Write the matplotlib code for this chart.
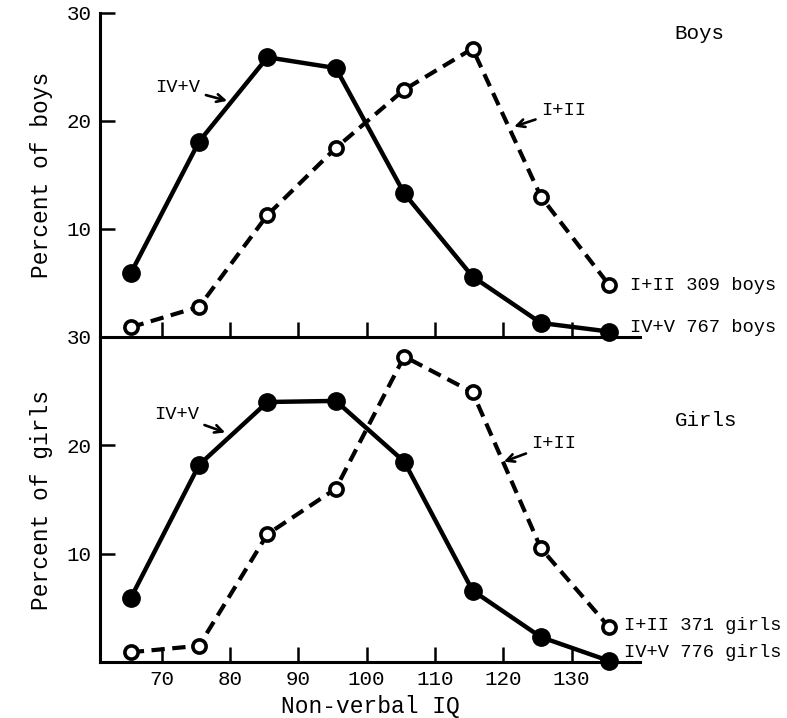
import matplotlib
matplotlib.use("Agg")
import matplotlib.pyplot as plt

iq = [65.5, 75.5, 85.5, 95.5, 105.5, 115.5, 125.5, 135.5]
boys_low = [5.9, 18.1, 25.9, 24.9, 13.3, 5.6, 1.3, 0.5]      # IV+V 767 boys
boys_high = [0.9, 2.8, 11.3, 17.5, 22.9, 26.7, 13.0, 4.8]    # I+II 309 boys
girls_low = [5.9, 18.2, 24.0, 24.1, 18.5, 6.6, 2.3, 0.1]     # IV+V 776 girls
girls_high = [0.9, 1.5, 11.8, 16.0, 28.2, 24.9, 10.5, 3.2]   # I+II 371 girls
xticks = [70, 80, 90, 100, 110, 120, 130]

FONT = "Liberation Mono"
plt.rcParams['font.family'] = [FONT, 'DejaVu Sans']

W, H = 787, 718
fig = plt.figure(figsize=(W / 100, H / 100), dpi=100)

def fx(px):
    return px / W

def fy(py):
    return 1 - py / H

ax_top = fig.add_axes([fx(100), fy(337), fx(640) - fx(100), fy(13) - fy(337)])
ax_bot = fig.add_axes([fx(100), fy(662), fx(640) - fx(100), fy(337) - fy(662)])

def style(ax, labels_x):
    ax.set_xlim(61, 140)
    ax.set_ylim(0, 30)
    for s in ['top', 'right']:
        ax.spines[s].set_visible(False)
    for s in ['left', 'bottom']:
        ax.spines[s].set_linewidth(2.2)
    ax.set_xticks(xticks)
    ax.tick_params(axis='both', direction='in', length=11, width=1.8,
                   labelsize=15, pad=6)
    if not labels_x:
        ax.tick_params(axis='x', labelbottom=False)
    ax.set_yticks([10, 20, 30])
    ax.patch.set_alpha(0)

def draw(ax, low, high):
    ax.plot(iq, low, '-', color='black', lw=3.2, marker='o', ms=12.5,
            mfc='black', mec='black', clip_on=False, zorder=3)
    ax.plot(iq, high, '--', color='black', lw=3.0, dashes=(3.2, 1.8),
            marker='o', ms=9.5, mfc='white', mec='black', mew=2.6,
            clip_on=False, zorder=4)

style(ax_top, False)
style(ax_bot, True)
draw(ax_top, boys_low, boys_high)
draw(ax_bot, girls_low, girls_high)

ax_top.set_ylabel("Percent of boys", fontsize=16.5, labelpad=10)
ax_bot.set_ylabel("Percent of girls", fontsize=16.5, labelpad=10)
ax_bot.set_xlabel("Non-verbal IQ", fontsize=16.5, labelpad=4)

arrow = dict(arrowstyle='->', lw=1.9, color='black', mutation_scale=14)
fs_ann = 13.5

ax_top.annotate("IV+V", xy=(80.0, 21.8), xytext=(72.4, 23.1), fontsize=fs_ann,
                ha='center', va='center', arrowprops=arrow)
ax_top.annotate("I+II", xy=(121.2, 19.4), xytext=(128.8, 21.0), fontsize=fs_ann,
                ha='center', va='center', arrowprops=arrow)
ax_top.text(145, 28.1, "Boys", fontsize=15, ha='left', va='center', clip_on=False)
ax_top.text(138.5, 4.8, "I+II 309 boys", fontsize=fs_ann, ha='left', va='center', clip_on=False)
ax_top.text(138.5, 0.9, "IV+V 767 boys", fontsize=fs_ann, ha='left', va='center', clip_on=False)

ax_bot.annotate("IV+V", xy=(79.7, 21.1), xytext=(72.2, 22.8), fontsize=fs_ann,
                ha='center', va='center', arrowprops=arrow)
ax_bot.annotate("I+II", xy=(119.7, 18.4), xytext=(127.4, 20.2), fontsize=fs_ann,
                ha='center', va='center', arrowprops=arrow)
ax_bot.text(145.1, 22.3, "Girls", fontsize=15, ha='left', va='center', clip_on=False)
ax_bot.text(137.6, 3.4, "I+II 371 girls", fontsize=fs_ann, ha='left', va='center', clip_on=False)
ax_bot.text(137.6, 0.9, "IV+V 776 girls", fontsize=fs_ann, ha='left', va='center', clip_on=False)

fig.savefig("out.png", dpi=100, facecolor='white')
